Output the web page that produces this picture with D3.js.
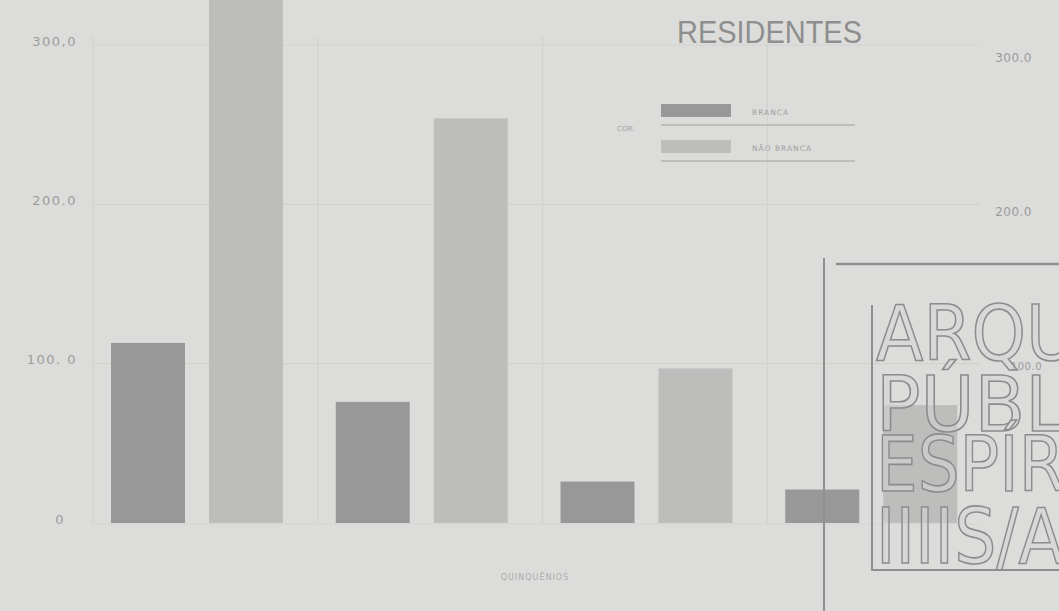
<!DOCTYPE html>
<html>
<head>
<meta charset="utf-8">
<script src="https://d3js.org/d3.v7.min.js"></script>
<style>
  body { margin: 0; background: #dcdcda; }
  svg { display: block; }
</style>
</head>
<body>
<div id="chartContainer"></div>
<script type="text/javascript">
// values (residents by colour, per quinquennium)
var quinquenios = ["1º", "2º", "3º", "4º"];
var branca      = [113, 76, 26, 21];
var naoBranca   = [360, 254, 97, 74];   // first bar runs off the top of the scan
var series      = ["BRANCA", "NÃO BRANCA"];
var yTicks      = [0, 100, 200, 300];
var yTickLabels = ["0", "100. 0", "200.0", "300,0"];
var rightTicks  = [100, 200, 300];
var rightLabels = ["100.0", "200.0", "300.0"];

var W = 1059, H = 611;
var bg = "#dcdcda", ink = "#8e8e8e", dark = "#989898", light = "#bdbdbc";

var svg = d3.select("#chartContainer").append("svg")
  .attr("width", W).attr("height", H);

svg.append("rect").attr("width", W).attr("height", H).attr("fill", bg);

var rows = quinquenios.map(function (q, i) {
  return { q: q, values: [branca[i], naoBranca[i]] };
});

var x0 = d3.scaleBand().domain(quinquenios).range([98, 997]).padding(0);
var x1 = d3.scaleBand().domain(series).range([13, 185]).paddingInner(0.245);
var y = d3.scaleLinear().domain([0, 300]).range([523, 45]);
var yRight = d3.scaleLinear().domain([100, 300]).range([365, 57]);
var color = d3.scaleOrdinal().domain(series).range([dark, light]);

// grid
var grid = svg.append("g").attr("stroke", "#d1d1cf").attr("stroke-width", 1.2);
grid.selectAll("line.h").data(yTicks.slice(1)).enter().append("line")
  .attr("x1", x0.range()[0] - 4).attr("x2", 980)
  .attr("y1", function (d) { return y(d); }).attr("y2", function (d) { return y(d); });
grid.selectAll("line.v").data(quinquenios).enter().append("line")
  .attr("x1", function (d) { return x0(d) - 5; }).attr("x2", function (d) { return x0(d) - 5; })
  .attr("y1", y(300) - 8).attr("y2", y(0));
grid.append("line")
  .attr("x1", x0.range()[0] - 8).attr("x2", 980)
  .attr("y1", y(0) + 1).attr("y2", y(0) + 1)
  .attr("stroke", "#d3d3d1");

// left axis labels
var yAxis = d3.axisLeft(y).tickValues(yTicks).tickSize(0)
  .tickFormat(function (d, i) { return yTickLabels[i]; });
var ga = svg.append("g").attr("transform", "translate(80,-4)").call(yAxis);
ga.select(".domain").remove();
ga.selectAll("text")
  .attr("fill", "#9c9c9b").attr("font-family", "DejaVu Sans")
  .attr("font-size", 13).attr("letter-spacing", 1.5);
ga.selectAll(".tick").filter(function (d) { return d === 0; })
  .select("text").attr("dx", -12);

// bars
var g = svg.append("g");
g.selectAll("g").data(rows).enter().append("g")
  .attr("transform", function (d) { return "translate(" + x0(d.q) + ",0)"; })
  .selectAll("rect")
  .data(function (d) { return d.values.map(function (v, i) { return { k: series[i], v: v }; }); })
  .enter().append("rect")
  .attr("x", function (d) { return x1(d.k); })
  .attr("width", x1.bandwidth())
  .attr("y", function (d) { return y(d.v); })
  .attr("height", function (d) { return y(0) - y(d.v); })
  .attr("fill", function (d) { return color(d.k); });

// title
svg.append("text")
  .attr("x", 677).attr("y", 43)
  .attr("textLength", 185).attr("lengthAdjust", "spacingAndGlyphs")
  .attr("font-family", "Liberation Sans").attr("font-size", 31)
  .attr("fill", ink).text("RESIDENTES");

// legend
svg.append("text").attr("x", 617).attr("y", 131)
  .attr("font-family", "DejaVu Sans").attr("font-size", 7)
  .attr("fill", "#a3a3a3").text("COR:");
var lg = svg.append("g").selectAll("g").data(series).enter().append("g")
  .attr("transform", function (d, i) { return "translate(661," + (104 + i * 36) + ")"; });
lg.append("rect").attr("width", 70).attr("height", 13)
  .attr("fill", function (d) { return color(d); });
lg.append("text").attr("x", 91).attr("y", 11)
  .attr("font-family", "DejaVu Sans").attr("font-size", 7.5).attr("letter-spacing", 1)
  .attr("fill", "#a0a0a0").text(function (d) { return d; });
lg.append("line").attr("x1", 0).attr("x2", 194).attr("y1", 21).attr("y2", 21)
  .attr("stroke", "#b4b4b2").attr("stroke-width", 1.5);

// x axis title
svg.append("text").attr("x", 535).attr("y", 580).attr("text-anchor", "middle")
  .attr("font-family", "DejaVu Sans").attr("font-size", 8).attr("letter-spacing", 1)
  .attr("fill", "#acacac").text("QUINQUÊNIOS");

// neighbouring panel's axis labels at right edge
svg.append("g").selectAll("text").data(rightTicks).enter().append("text")
  .attr("x", function (d) { return d === 100 ? 1042 : 1032; })
  .attr("y", function (d) { return yRight(d) + 5; })
  .attr("text-anchor", "end")
  .attr("font-family", "DejaVu Sans").attr("font-size", function (d) { return d === 100 ? 10 : 12; })
  .attr("letter-spacing", 0.5)
  .attr("fill", "#9a9a9a").text(function (d, i) { return rightLabels[i]; });

// archive stamp over the lower right corner
var st = svg.append("g").attr("stroke", "#8f8f8f").attr("fill", "none");
st.append("line").attr("x1", 824).attr("x2", 824).attr("y1", 258).attr("y2", H).attr("stroke-width", 2);
st.append("line").attr("x1", 836).attr("x2", W).attr("y1", 264).attr("y2", 264).attr("stroke-width", 2.5);
st.append("polyline").attr("points", "1059,570 872,570 872,305").attr("stroke-width", 2);
var stampRows = [
  { t: "ARQUIVO", y: 360, len: 322 },
  { t: "PÚBLICO", y: 431, len: 322 },
  { t: "ESPÍRITO", y: 491, len: 300 },
  { t: "IIIIS/ANTO", y: 563, len: 330 }
];
svg.append("g").selectAll("text").data(stampRows).enter().append("text")
  .attr("x", 876).attr("y", function (d) { return d.y; })
  .attr("textLength", function (d) { return d.len; }).attr("lengthAdjust", "spacingAndGlyphs")
  .attr("font-family", "DejaVu Sans").attr("font-size", 76)
  .attr("fill", "#d6d6d4").attr("fill-opacity", 0.55)
  .attr("stroke", "#8c8c8c").attr("stroke-width", 1.6)
  .text(function (d) { return d.t; });
</script>
</body>
</html>
